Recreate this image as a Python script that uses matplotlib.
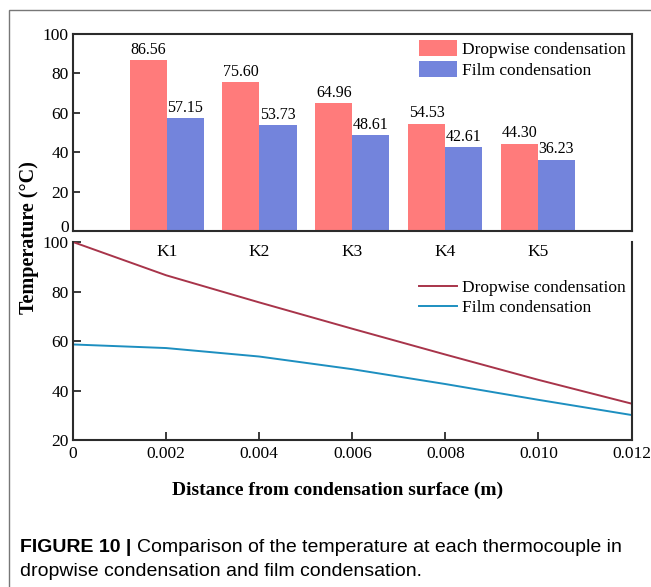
import matplotlib
matplotlib.use("Agg")
import matplotlib.pyplot as plt
from matplotlib.patches import Rectangle
from matplotlib.transforms import ScaledTranslation
import numpy as np

# thermocouple readings
thermocouples = ["K1", "K2", "K3", "K4", "K5"]
dropwise = [86.56, 75.60, 64.96, 54.53, 44.30]
film = [57.15, 53.73, 48.61, 42.61, 36.23]

# temperature profile along the distance from the surface
distance = [0, 0.002, 0.004, 0.006, 0.008, 0.010, 0.012]
dropwise_profile = [100.0, 86.56, 75.60, 64.96, 54.53, 44.30, 34.7]
film_profile = [58.6, 57.15, 53.73, 48.61, 42.61, 36.23, 30.1]

red_bar = "#FF7B7B"
blue_bar = "#7384DC"
red_line = "#A8344A"
blue_line = "#1D8FC0"
spine_col = "#2b2b2b"

plt.rcParams["font.family"] = ["Liberation Serif", "DejaVu Serif"]

fig = plt.figure(figsize=(6.51, 5.87), dpi=100)

# outer frame
fig.patches.append(Rectangle((9 / 651, -0.1), 1.2, (587 - 10) / 587 + 0.1,
                             transform=fig.transFigure, fill=False,
                             edgecolor="#777777", linewidth=1.0))

L, R = 73 / 651, 631.5 / 651
ax1 = fig.add_axes([L, (587 - 231) / 587, R - L, (231 - 34) / 587])
ax2 = fig.add_axes([L, (587 - 440) / 587, R - L, (440 - 242) / 587])
ax2.patch.set_visible(False)

# bar chart
x = np.arange(len(thermocouples))
w = 0.4
b1 = ax1.bar(x - w / 2, dropwise, w, color=red_bar, label="Dropwise condensation")
b2 = ax1.bar(x + w / 2, film, w, color=blue_bar, label="Film condensation")
for bars, vals in ((b1, dropwise), (b2, film)):
    for rect, v in zip(bars, vals):
        ax1.text(rect.get_x() + rect.get_width() / 2, v + 1.2, f"{v:.2f}",
                 ha="center", va="bottom", fontsize=11.5)
ax1.set_xlim(-1.01, 5.01)
ax1.set_ylim(0, 100)
ax1.set_yticks([0, 20, 40, 60, 80, 100])
ax1.set_xticks(x)
ax1.set_xticklabels(thermocouples)
ax1.tick_params(axis="x", length=0, pad=9, labelsize=12.5)
ax1.tick_params(axis="y", direction="in", length=5, width=1.3, pad=3,
                labelsize=12.5, color=spine_col)
for s in ax1.spines.values():
    s.set_linewidth(1.5)
    s.set_color(spine_col)
ax1.legend(loc="upper left", bbox_to_anchor=((419 - 73) / 558.5, (231 - 40) / 197),
           frameon=False, fontsize=12.5, borderpad=0, borderaxespad=0,
           handlelength=2.2, handleheight=1.05, handletextpad=0.3,
           labelspacing=0.16)

# nudge the top "0" up so it clears the "100" below it
fig.canvas.draw()
zero_lab = ax1.get_yticklabels()[0]
zero_lab.set_transform(zero_lab.get_transform()
                       + ScaledTranslation(0, 5 / 100, fig.dpi_scale_trans))

# temperature profile
ax2.plot(distance, dropwise_profile, color=red_line, lw=1.4, label="Dropwise condensation")
ax2.plot(distance, film_profile, color=blue_line, lw=1.4, label="Film condensation")
ax2.set_xlim(0, 0.012)
ax2.set_ylim(20, 100)
ax2.set_xticks([0, 0.002, 0.004, 0.006, 0.008, 0.010, 0.012])
ax2.set_xticklabels(["0", "0.002", "0.004", "0.006", "0.008", "0.010", "0.012"])
ax2.set_yticks([20, 40, 60, 80, 100])
ax2.tick_params(direction="in", length=6, width=1.3, labelsize=12.5, color=spine_col)
ax2.tick_params(axis="x", pad=4)
ax2.tick_params(axis="y", pad=3)
ax2.spines["top"].set_visible(False)
for s in ("left", "right", "bottom"):
    ax2.spines[s].set_linewidth(1.5)
    ax2.spines[s].set_color(spine_col)
ax2.legend(loc="upper left", bbox_to_anchor=((419 - 73) / 558.5, (440 - 280) / 198),
           frameon=False, fontsize=12.5, borderpad=0, borderaxespad=0,
           handlelength=2.2, handletextpad=0.3, labelspacing=0.2)

# shared axis titles
fig.text(29 / 651, (587 - 238) / 587, "Temperature (°C)", rotation=90,
         ha="center", va="center", fontsize=14.5, fontweight="bold")
fig.text(338 / 651, (587 - 490) / 587, "Distance from condensation surface (m)",
         ha="center", va="center", fontsize=14, fontweight="bold")

# caption
cap_font = ["Liberation Sans", "DejaVu Sans"]
cap_size = 14
t1 = fig.text(20 / 651, (587 - 547) / 587, "FIGURE 10 | ", family=cap_font,
              fontsize=cap_size, fontweight="bold", va="center", ha="left")
fig.canvas.draw()
bb = t1.get_window_extent()
fig.text(bb.x1 / fig.bbox.width, (587 - 547) / 587,
         "Comparison of the temperature at each thermocouple in",
         family=cap_font, fontsize=cap_size, va="center", ha="left")
fig.text(20 / 651, (587 - 572) / 587, "dropwise condensation and film condensation.",
         family=cap_font, fontsize=cap_size, va="center", ha="left")

fig.savefig("out.png", dpi=100)
